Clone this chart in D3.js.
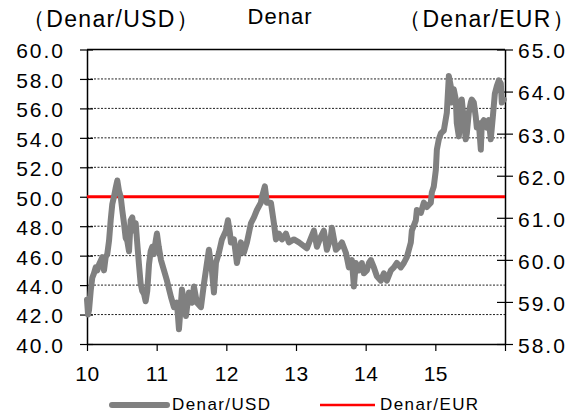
<!DOCTYPE html>
<html>
<head>
<meta charset="utf-8">
<script src="https://cdn.jsdelivr.net/npm/d3@7/dist/d3.min.js"></script>
<style>
    body { margin: 0; background: #fff; }
    text { font-family: "Liberation Sans", Arial, sans-serif; fill: #000; }
</style>
</head>
<body>
<div id="graph"></div>
<script>
// time in decimal years
var usdDates = [
    2010.000, 2010.015, 2010.029, 2010.053, 2010.076, 2010.100, 2010.125, 2010.148, 2010.172, 2010.220,
    2010.244, 2010.268, 2010.291, 2010.316, 2010.340, 2010.363, 2010.387, 2010.412, 2010.435, 2010.459,
    2010.484, 2010.506, 2010.531, 2010.555, 2010.578, 2010.603, 2010.627, 2010.650, 2010.674, 2010.699,
    2010.722, 2010.746, 2010.770, 2010.793, 2010.818, 2010.842, 2010.865, 2010.890, 2010.914, 2010.937,
    2010.961, 2010.986, 2011.004, 2011.030, 2011.062, 2011.105, 2011.148, 2011.205, 2011.248, 2011.291,
    2011.320, 2011.363, 2011.420, 2011.463, 2011.506, 2011.535, 2011.578, 2011.636, 2011.679, 2011.722,
    2011.750, 2011.793, 2011.822, 2011.851, 2011.894, 2011.937, 2011.994, 2012.023, 2012.052, 2012.066,
    2012.109, 2012.152, 2012.209, 2012.252, 2012.296, 2012.353, 2012.396, 2012.439, 2012.496, 2012.511,
    2012.553, 2012.582, 2012.640, 2012.683, 2012.712, 2012.755, 2012.798, 2012.855, 2012.898, 2012.970,
    2013.042, 2013.156, 2013.214, 2013.257, 2013.300, 2013.357, 2013.400, 2013.443, 2013.501, 2013.515,
    2013.572, 2013.615, 2013.659, 2013.716, 2013.759, 2013.802, 2013.831, 2013.859, 2013.902, 2013.945,
    2013.974, 2014.017, 2014.046, 2014.075, 2014.118, 2014.161, 2014.218, 2014.261, 2014.304, 2014.362,
    2014.405, 2014.448, 2014.505, 2014.548, 2014.591, 2014.620, 2014.648, 2014.663, 2014.720, 2014.735,
    2014.792, 2014.835, 2014.878, 2014.935, 2014.950, 2014.978, 2015.007, 2015.022, 2015.050, 2015.079,
    2015.122, 2015.165, 2015.194, 2015.222, 2015.237, 2015.265, 2015.294, 2015.308, 2015.337, 2015.366,
    2015.380, 2015.409, 2015.437, 2015.452, 2015.480, 2015.509, 2015.523, 2015.552, 2015.581, 2015.595,
    2015.624, 2015.653, 2015.667, 2015.696, 2015.739, 2015.768, 2015.796, 2015.825, 2015.854, 2015.882,
    2015.911, 2015.940, 2015.954, 2015.983
];
var usdValues = [
    43.0, 42.0, 42.3, 43.6, 44.5, 44.8, 45.2, 45.0, 45.4, 45.9,
    45.0, 45.9, 46.1, 47.0, 48.4, 49.5, 50.0, 50.6, 51.1, 50.4,
    50.0, 49.1, 48.2, 47.2, 47.0, 46.3, 48.4, 48.6, 47.7, 48.2,
    46.8, 45.4, 44.1, 43.6, 43.4, 42.9, 43.6, 45.4, 46.3, 46.6,
    46.1, 47.0, 47.5, 46.6, 45.7, 45.0, 44.3, 43.2, 42.5, 42.8,
    41.0, 43.7, 41.9, 43.5, 42.8, 43.9, 42.8, 42.5, 44.1, 45.5,
    46.4, 45.0, 43.5, 45.5, 46.2, 47.1, 47.7, 48.4, 47.5, 46.9,
    47.1, 45.5, 46.9, 46.2, 46.9, 48.2, 48.6, 49.1, 49.6, 50.0,
    50.7, 49.6, 49.6, 48.2, 47.1, 47.5, 47.1, 47.5, 46.9, 47.1,
    46.9, 46.5, 47.2, 47.7, 46.6, 47.3, 47.7, 46.4, 47.3, 47.9,
    46.4, 46.6, 46.9, 46.2, 45.2, 45.7, 43.9, 45.5, 45.0, 45.5,
    44.8, 45.0, 45.5, 45.7, 45.2, 44.6, 44.3, 44.8, 44.3, 45.0,
    45.2, 45.5, 45.2, 45.5, 45.9, 46.4, 46.9, 47.7, 48.4, 49.1,
    48.9, 49.6, 49.3, 49.6, 50.3, 50.7, 51.8, 53.2, 53.9, 54.3,
    54.5, 55.7, 58.2, 57.5, 56.4, 57.3, 56.6, 55.0, 54.1, 55.7,
    56.6, 55.2, 53.9, 54.3, 55.7, 56.4, 56.6, 56.4, 55.4, 54.7,
    55.0, 53.2, 55.0, 55.2, 54.7, 55.2, 53.9, 55.4, 57.0, 57.5,
    57.9, 57.7, 56.4, 56.6
];
var eurDates = [2010, 2011, 2012, 2013, 2014, 2015, 2016];
var eurValues = [61.5, 61.5, 61.5, 61.5, 61.5, 61.5, 61.5];

var xTicks = [2010, 2011, 2012, 2013, 2014, 2015, 2016];
var xTickLabels = ["10", "11", "12", "13", "14", "15", ""];
var leftTicks = [40, 42, 44, 46, 48, 50, 52, 54, 56, 58, 60];
var rightTicks = [58, 59, 60, 61, 62, 63, 64, 65];

var w = 578;
var h = 414;
var plotLeft = 87, plotRight = 505, plotTop = 49.5, plotBottom = 344;

var svg = d3.select("#graph")
    .append("svg")
    .attr("width", w)
    .attr("height", h);

var x = d3.scaleLinear().domain([2010, 2016]).range([plotLeft, plotRight]);
var yL = d3.scaleLinear().domain([40, 60]).range([plotBottom, plotTop]);
var yR = d3.scaleLinear().domain([58, 65]).range([plotBottom, plotTop]);

// dotted grid lines
svg.selectAll("line.grid")
    .data(leftTicks.slice(1, -1))
    .enter()
    .append("line")
    .attr("class", "grid")
    .attr("x1", plotLeft)
    .attr("x2", plotRight)
    .attr("y1", function(d) { return yL(d); })
    .attr("y2", function(d) { return yL(d); })
    .attr("stroke", "#222")
    .attr("stroke-width", 1)
    .attr("stroke-dasharray", "2,1.5");

// frame top
svg.append("line")
    .attr("x1", plotLeft).attr("x2", plotRight)
    .attr("y1", plotTop).attr("y2", plotTop)
    .attr("stroke", "#000").attr("stroke-width", 1.3);

// left axis
var gL = svg.append("g")
    .attr("transform", "translate(" + plotLeft + ",0)")
    .call(d3.axisLeft(yL).tickValues(leftTicks).tickSizeInner(7).tickSizeOuter(0).tickPadding(15)
        .tickFormat(d3.format(".1f")));
gL.selectAll(".tick line").attr("x2", -7).attr("x1", 6);

// right axis
var gR = svg.append("g")
    .attr("transform", "translate(" + plotRight + ",0)")
    .call(d3.axisRight(yR).tickValues(rightTicks).tickSizeInner(8).tickSizeOuter(0).tickPadding(5)
        .tickFormat(d3.format(".1f")));
gR.selectAll(".tick line").attr("x1", -8);

// bottom axis
var gB = svg.append("g")
    .attr("transform", "translate(0," + plotBottom + ")")
    .call(d3.axisBottom(x).tickValues(xTicks).tickSizeInner(7).tickSizeOuter(0)
        .tickFormat(function(d, i) { return xTickLabels[i]; }));

svg.selectAll(".domain").attr("stroke", "#000").attr("stroke-width", 1.5);
svg.selectAll(".tick line").attr("stroke", "#000").attr("stroke-width", 1.2);
svg.selectAll(".tick text")
    .attr("font-size", "21px")
    .attr("font-family", "Liberation Sans, Arial, sans-serif")
    .attr("fill", "#000");
gL.selectAll(".tick text").attr("dy", "0.4em").attr("letter-spacing", "2px");
gR.selectAll(".tick text").attr("dy", "0.4em").attr("letter-spacing", "2px");
gB.selectAll(".tick text").attr("dy", null).attr("y", 37).attr("letter-spacing", "0.5px");

// Denar/EUR (right axis)
var eurLine = d3.line()
    .x(function(d, i) { return x(eurDates[i]); })
    .y(function(d) { return yR(d); });

svg.append("path")
    .datum(eurValues)
    .attr("d", eurLine)
    .attr("fill", "none")
    .attr("stroke", "#ff0000")
    .attr("stroke-width", 3);

// Denar/USD (left axis)
var usdLine = d3.line()
    .x(function(d, i) { return x(usdDates[i]); })
    .y(function(d) { return yL(d); });

svg.append("path")
    .datum(usdValues)
    .attr("d", usdLine)
    .attr("fill", "none")
    .attr("stroke", "#808080")
    .attr("stroke-width", 6)
    .attr("stroke-linejoin", "round")
    .attr("stroke-linecap", "round");

// titles
svg.append("text").text("（Denar/USD）")
    .attr("x", 22).attr("y", 27)
    .attr("font-size", "23px")
    .attr("letter-spacing", "1.3px");
svg.append("text").text("Denar")
    .attr("x", 280).attr("y", 24)
    .attr("text-anchor", "middle")
    .attr("font-size", "22px")
    .attr("letter-spacing", "1px");
svg.append("text").text("（Denar/EUR）")
    .attr("x", 576).attr("y", 27)
    .attr("text-anchor", "end")
    .attr("font-size", "23px")
    .attr("letter-spacing", "1.3px");

// legend
var legend = [
    { name: "Denar/USD", color: "#808080", width: 6, x: 112 },
    { name: "Denar/EUR", color: "#ff0000", width: 2.5, x: 320 }
];
var lg = svg.selectAll("g.legend")
    .data(legend)
    .enter()
    .append("g")
    .attr("class", "legend");
lg.append("line")
    .attr("x1", function(d) { return d.x; })
    .attr("x2", function(d) { return d.x + 55; })
    .attr("y1", 405).attr("y2", 405)
    .attr("stroke", function(d) { return d.color; })
    .attr("stroke-width", function(d) { return d.width; })
    .attr("stroke-linecap", function(d) { return d.width > 4 ? "round" : "butt"; });
lg.append("text")
    .text(function(d) { return d.name; })
    .attr("x", function(d) { return d.x + 60; })
    .attr("y", 410)
    .attr("font-size", "17px")
    .attr("letter-spacing", "1.4px");
</script>
</body>
</html>
